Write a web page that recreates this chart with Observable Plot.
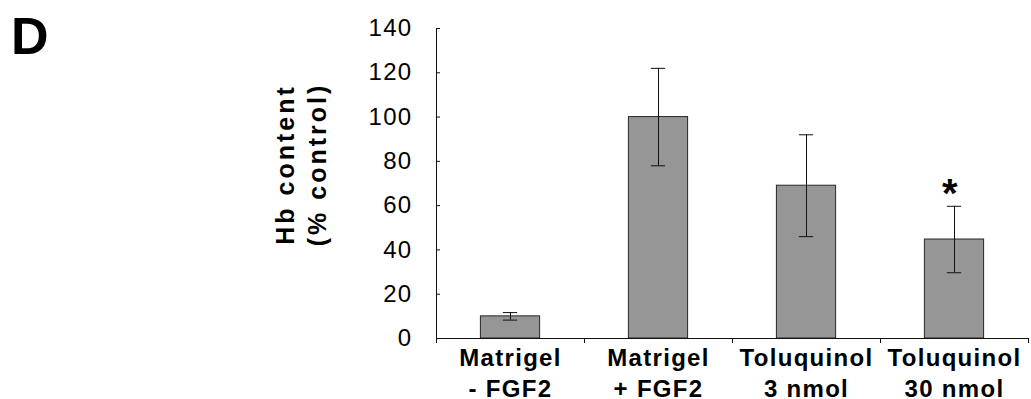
<!DOCTYPE html>
<html><head><meta charset="utf-8">
<script src="https://cdn.jsdelivr.net/npm/d3@7"></script>
<script src="https://cdn.jsdelivr.net/npm/@observablehq/plot@0.6"></script>
<style>
html,body{margin:0;padding:0;background:#fff;}
#wrap{position:relative;width:1031px;height:399px;}
#panel{position:absolute;left:11px;top:10px;font:bold 52px "Liberation Sans",Arial,sans-serif;line-height:1;margin:0;color:#000;}
#chart svg text{letter-spacing:1.3px;}
</style></head><body>
<div id="wrap"><div id="chart"></div><div id="panel">D</div></div>
<script>
// ---- data ----
const categories = ["Matrigel\n- FGF2", "Matrigel\n+ FGF2", "Toluquinol\n3 nmol", "Toluquinol\n30 nmol"];
const values = [10, 100, 69, 44.7];
const errors = [1.7, 22, 23, 15];
const significance = ["", "", "", "*"];
const yTicks = [0, 20, 40, 60, 80, 100, 120, 140];
const yTitle = "Hb content\n(% control)";

const rows = categories.map((c, i) => ({
  pos: i + 0.5, label: c, value: values[i],
  lo: values[i] - errors[i], hi: values[i] + errors[i], mark: significance[i]
}));

const barHalf = 0.2, capHalf = 0.048;
const font = '"Liberation Sans", Arial, sans-serif';

const chart = Plot.plot({
  width: 1031, height: 399,
  marginLeft: 436, marginRight: 3, marginTop: 28, marginBottom: 61,
  style: {fontFamily: font, background: "white", color: "black", overflow: "visible"},
  x: {domain: [0, categories.length], label: null},
  y: {domain: [0, 140], label: null},
  marks: [
    Plot.rectY(rows, {x1: d => d.pos - barHalf, x2: d => d.pos + barHalf, y1: 0, y2: "value", fill: "#969696", stroke: "#262626", strokeWidth: 1}),
    Plot.ruleX(rows, {x: "pos", y1: "lo", y2: "hi", stroke: "#111", strokeWidth: 1}),
    Plot.ruleY(rows, {y: "hi", x1: d => d.pos - capHalf, x2: d => d.pos + capHalf, stroke: "#111"}),
    Plot.ruleY(rows, {y: "lo", x1: d => d.pos - capHalf, x2: d => d.pos + capHalf, stroke: "#111"}),
    Plot.ruleX([0], {stroke: "#111"}),
    Plot.ruleY([0], {stroke: "#111"}),
    Plot.tickY(yTicks, {y: d => d, insetRight: 588, stroke: "#111"}),
    Plot.axisY({ticks: yTicks, tickSize: 0, tickPadding: 24, fontSize: 24, label: null, tickFormat: d => String(d)}),
    Plot.axisX({ticks: d3.range(categories.length + 1), tickSize: 5, tickFormat: () => "", label: null, stroke: "#111"}),
    Plot.text(rows, {x: "pos", text: "label", frameAnchor: "bottom", lineAnchor: "top", dy: 5, lineHeight: 1.3, fontSize: 24, fontWeight: "bold"}),
    Plot.text(rows.filter(d => d.mark), {x: "pos", y: "hi", text: "mark", dx: -4, dy: -12, fontSize: 40, fontWeight: "bold", lineAnchor: "middle"}),
    Plot.text([yTitle], {frameAnchor: "top-left", dx: -137, dy: 136, rotate: -90, fontSize: 25, fontWeight: "bold", lineHeight: 1.28, lineAnchor: "middle", textAnchor: "middle"})
  ]
});
document.getElementById("chart").appendChild(chart);
// wider tracking for the rotated axis title, as in the reference
d3.select(chart).selectAll("text")
  .filter(function () { return this.textContent.includes("Hb content"); })
  .style("letter-spacing", "3px");
</script>
</body></html>
